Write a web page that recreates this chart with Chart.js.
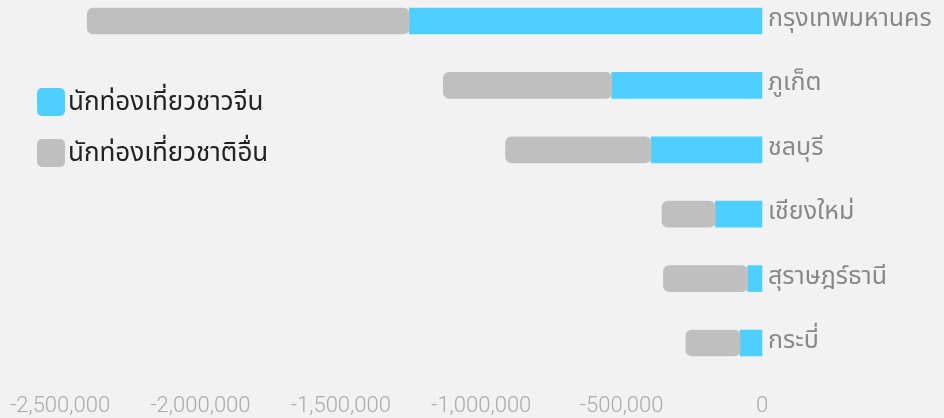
<!DOCTYPE html>
<html>
<head>
<meta charset="utf-8">
<script src="https://cdn.jsdelivr.net/npm/chart.js@4"></script>
<style>
  html, body { margin: 0; padding: 0; background: #f2f2f2; }
  #wrap { position: relative; width: 944px; height: 418px; }
  #legend { position: absolute; left: 37px; top: 88px; font-family: "Noto Sans Thai", "Noto Sans", sans-serif; font-size: 26px; color: #222; }
  #legend div { display: flex; align-items: center; height: 28px; margin-bottom: 23px; }
  #legend span.box { width: 28px; height: 28px; border-radius: 5px; margin-right: 3px; }
</style>
</head>
<body>
<div id="wrap">
  <canvas id="chart" width="944" height="418"></canvas>
  <div id="legend"></div>
</div>
<script>
// จังหวัด
const provinces = ["กรุงเทพมหานคร", "ภูเก็ต", "ชลบุรี", "เชียงใหม่", "สุราษฎร์ธานี", "กระบี่"];
// นักท่องเที่ยวชาวจีน
const chinese = [1256000, 535000, 395000, 166000, 51000, 78000];
// รวมทั้งหมด (จีน + ชาติอื่น)
const total = [2403000, 1135000, 913000, 356000, 351000, 271000];
const xTicks = [-2500000, -2000000, -1500000, -1000000, -500000, 0];

const blue = "#4dd0ff";
const gray = "#bfbfbf";

const ctx = document.getElementById("chart").getContext("2d");

const chart = new Chart(ctx, {
  type: "bar",
  data: {
    labels: provinces,
    datasets: [
      {
        label: "นักท่องเที่ยวชาวจีน",
        data: chinese.map(v => -v),
        backgroundColor: blue,
        barThickness: 26,
        order: 2,
      },
      {
        label: "นักท่องเที่ยวชาติอื่น",
        data: chinese.map((v, i) => [-v, -total[i]]),
        backgroundColor: gray,
        borderRadius: 6,
        borderSkipped: false,
        barThickness: 26,
        order: 1,
      },
    ],
  },
  options: {
    indexAxis: "y",
    responsive: false,
    animation: false,
    clip: false,
    layout: { padding: { top: 18, left: 0, right: 0, bottom: 0 } },
    plugins: {
      legend: { display: false },
      tooltip: { enabled: false },
    },
    datasets: { bar: { grouped: false } },
    scales: {
      x: {
        min: xTicks[0],
        max: xTicks[xTicks.length - 1],
        afterBuildTicks: s => { s.ticks = xTicks.map(v => ({ value: v })); },
        afterFit: s => { s.height = 75; s.paddingLeft = 60; },
        grid: { display: false, drawTicks: false },
        border: { display: false },
        ticks: {
          padding: 50,
          maxRotation: 0,
          minRotation: 0,
          color: "#aaaaaa",
          font: { family: "Roboto", weight: 300, size: 22 },
          callback: v => v.toLocaleString("en-US"),
        },
      },
      y: {
        position: "right",
        offset: false,
        grid: { display: false, drawTicks: false },
        border: { display: false },
        afterFit: s => { s.width = 182; },
        ticks: {
          padding: 6,
          color: "#888888",
          font: { family: "'Noto Sans Thai', 'Noto Sans', sans-serif", size: 25 },
        },
      },
    },
  },
});

// legend แบบ HTML
const legend = document.getElementById("legend");
chart.data.datasets.forEach(ds => {
  const row = document.createElement("div");
  const box = document.createElement("span");
  box.className = "box";
  box.style.background = ds.backgroundColor;
  row.appendChild(box);
  row.appendChild(document.createTextNode(ds.label));
  legend.appendChild(row);
});
</script>
</body>
</html>
